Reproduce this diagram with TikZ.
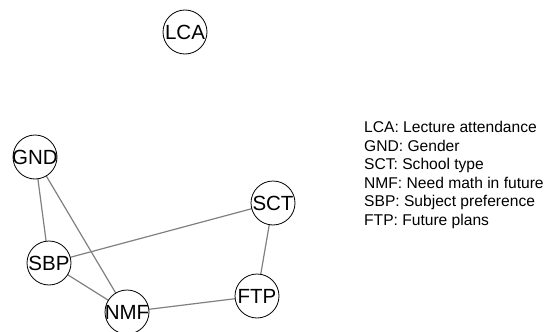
\documentclass[tikz,border=0pt]{standalone}
\usepackage{fontspec}
\setmainfont{Liberation Sans}
\usetikzlibrary{backgrounds}
\begin{document}
\begin{tikzpicture}[x=1pt,y=-1pt,
  var/.style={circle, draw=black, line width=0.8pt, fill=white,
    minimum size=44pt, inner sep=0pt,
    label={[font=\fontsize{20.5}{24}\selectfont, inner sep=0pt]center:#1}},
  edge/.style={draw=black!50, line width=1.2pt},
  legend/.style={anchor=base west, inner sep=0pt,
    font=\fontsize{15.6}{18.5}\selectfont}]
  \useasboundingbox (0,0) rectangle (544,332);
  \clip (0,0) rectangle (544,332);
  % variables
  \node[var=LCA] (LCA) at (185,32) {};
  \node[var=GND] (GND) at (35,157) {};
  \node[var=SCT] (SCT) at (273,203) {};
  \node[var=SBP] (SBP) at (49,263) {};
  \node[var=FTP] (FTP) at (257,296) {};
  \node[var=NMF] (NMF) at (127,312) {};
  % associations, drawn behind the circles
  \begin{scope}[on background layer]
    \foreach \a/\b in {GND/SBP, GND/NMF, SBP/SCT, SBP/NMF, NMF/FTP, SCT/FTP}
      \draw[edge] (\a.center) -- (\b.center);
  \end{scope}
  % key
  \node[legend] (k1) at (364,132.7) {LCA: Lecture attendance};
  \node[legend] (k2) at (364,151.2) {GND: Gender};
  \node[legend] (k3) at (364,169.7) {SCT: School type};
  \node[legend] (k4) at (364,188.2) {NMF: Need math in future};
  \node[legend] (k5) at (364,206.7) {SBP: Subject preference};
  \node[legend] (k6) at (364,225.2) {FTP: Future plans};
\end{tikzpicture}
\end{document}
